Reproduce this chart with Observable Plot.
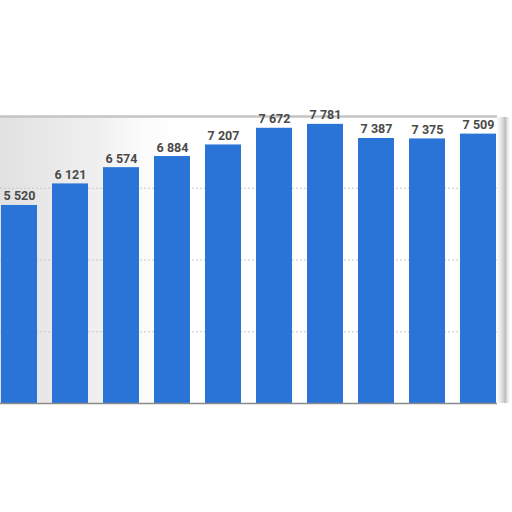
<!DOCTYPE html>
<html>
<head>
<meta charset="utf-8">
<script src="https://cdn.jsdelivr.net/npm/d3@7"></script>
<script src="https://cdn.jsdelivr.net/npm/@observablehq/plot@0.6"></script>
<style>
  html, body { margin: 0; padding: 0; background: #fff; }
  #chart svg { display: block; }
</style>
</head>
<body>
<div id="chart"></div>
<script>
const categories = ["1", "2", "3", "4", "5", "6", "7", "8", "9", "10"];
const values = [5520, 6121, 6574, 6884, 7207, 7672, 7781, 7387, 7375, 7509];
const gridTicks = [2000, 4000, 6000];
const topTick = [8000];

const data = categories.map((c, i) => ({cat: c, value: values[i]}));
const fmt = d3.formatLocale({decimal: ".", thousands: " ", grouping: [3], currency: ["", ""]}).format(",d");

const plot = Plot.plot({
  width: 512,
  height: 512,
  marginTop: 116,
  marginBottom: 109,
  marginLeft: 0,
  marginRight: 15,
  style: {background: "transparent", fontFamily: "Roboto, sans-serif"},
  x: {domain: categories, paddingInner: 0.3, paddingOuter: 0, axis: null},
  y: {domain: [0, 8000], axis: null},
  marks: [
    Plot.ruleY(gridTicks, {stroke: "#c8c8c8", strokeDasharray: "2,2", strokeWidth: 1}),
    Plot.ruleY(topTick, {stroke: "#c4c4c4", strokeWidth: 2.5}),
    Plot.barY(data, {x: "cat", y: "value", fill: "#2a74d8"}),
    Plot.ruleY([0], {stroke: "#8a8a8a", strokeWidth: 1.5}),
    Plot.text(data, {
      x: "cat", y: "value", text: d => fmt(d.value),
      lineAnchor: "bottom", dy: -5,
      fontSize: 12.5, fontWeight: "bold", fill: "#4a4a4a"
    })
  ]
});

// soft grey photo-like shading behind the left part and right edge shadow
const svg = d3.select(plot);
const defs = svg.insert("defs", ":first-child");
const g1 = defs.append("linearGradient").attr("id", "leftShade").attr("x1", "0").attr("x2", "1").attr("y1", "0").attr("y2", "0");
g1.append("stop").attr("offset", "0").attr("stop-color", "#d4d4d4").attr("stop-opacity", 0.7);
g1.append("stop").attr("offset", "0.5").attr("stop-color", "#dcdcdc").attr("stop-opacity", 0.45);
g1.append("stop").attr("offset", "1").attr("stop-color", "#ffffff").attr("stop-opacity", 0);
const g2 = defs.append("linearGradient").attr("id", "rightShade").attr("x1", "0").attr("x2", "1");
g2.append("stop").attr("offset", "0").attr("stop-color", "#e6e6e6").attr("stop-opacity", 0.2);
g2.append("stop").attr("offset", "0.6").attr("stop-color", "#b5b5b5").attr("stop-opacity", 0.9);
g2.append("stop").attr("offset", "1").attr("stop-color", "#ffffff").attr("stop-opacity", 0);
svg.insert("rect", "defs + *")
  .attr("x", 0).attr("y", 117).attr("width", 195).attr("height", 286)
  .attr("fill", "url(#leftShade)");
svg.insert("rect", "defs + *")
  .attr("x", 497).attr("y", 117).attr("width", 14).attr("height", 286)
  .attr("fill", "url(#rightShade)");

document.getElementById("chart").appendChild(plot);
</script>
</body>
</html>
